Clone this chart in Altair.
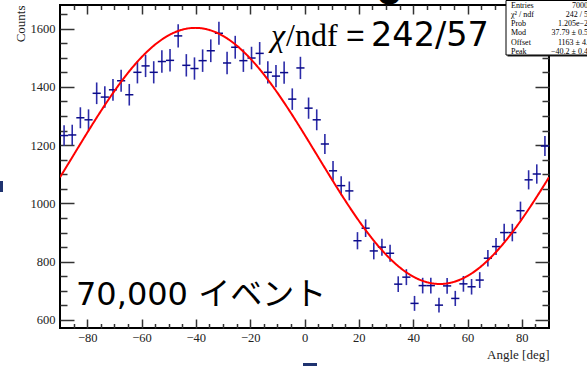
import altair as alt
import pandas as pd

# ---- data ----
ANGLES = [-88.5, -85.5, -82.5, -79.5, -76.5, -73.5, -70.5, -67.5, -64.5, -61.5,
          -58.5, -55.5, -52.5, -49.5, -46.5, -43.5, -40.5, -37.5, -34.5, -31.5,
          -28.5, -25.5, -22.5, -19.5, -16.5, -13.5, -10.5, -7.5, -4.5, -1.5,
          1.5, 4.5, 7.5, 10.5, 13.5, 16.5, 19.5, 22.5, 25.5, 28.5,
          31.5, 34.5, 37.5, 40.5, 43.5, 46.5, 49.5, 52.5, 55.5, 58.5,
          61.5, 64.5, 67.5, 70.5, 73.5, 76.5, 79.5, 82.5, 85.5, 88.5]
COUNTS = [1233, 1235, 1294, 1287, 1378, 1365, 1390, 1421, 1373, 1450,
          1472, 1450, 1487, 1491, 1575, 1474, 1463, 1490, 1524, 1584,
          1482, 1536, 1490, 1499, 1515, 1450, 1437, 1449, 1358, 1465,
          1327, 1287, 1204, 1112, 1061, 1043, 872, 915, 837, 850,
          829, 723, 747, 657, 718, 718, 651, 717, 674, 724,
          714, 737, 812, 852, 900, 900, 975, 1081, 1101, 1197]
BIN_HALF = 1.5

# fit parameters (from the stat box)
MOD = 37.79
OFFSET = 1163
PEAK = -40.2

X_DOMAIN = [-90, 90]
Y_DOMAIN = [572.5, 1681]
X_MAJOR = [-80, -60, -40, -20, 0, 20, 40, 60, 80]
X_MINOR = [-85, -75, -70, -65, -55, -50, -45, -35, -30, -25, -15, -10, -5,
           5, 10, 15, 25, 30, 35, 45, 50, 55, 65, 70, 75, 85]
Y_MAJOR = [600, 800, 1000, 1200, 1400, 1600]
Y_MINOR = [650, 700, 750, 850, 900, 950, 1050, 1100, 1150, 1250, 1300, 1350,
           1450, 1500, 1550, 1650]

STAT_LABELS = ["Entries", "χ² / ndf", "Prob", "Mod", "Offset", "Peak"]
STAT_VALUES = ["70000", "242 / 57", "1.205e−24", "37.79 ± 0.52", "1163 ± 4.3", "−40.2 ± 0.42"]

CHI_SYMBOL = "χ"
CHI_REST = "/ndf"
CHI_EQ = "="
CHI_VALUE = "242/57"
EVENTS_TEXT = "70,000 イベント"

X_TITLE = "Angle [deg]"
Y_TITLE = "Counts"

W, H = 489, 323
SERIF = "Liberation Serif"
SANS = "DejaVu Sans, Noto Sans CJK JP"

df = pd.DataFrame({"angle": ANGLES, "count": COUNTS})

xs = alt.Scale(domain=X_DOMAIN, nice=False, zero=False)
ys = alt.Scale(domain=Y_DOMAIN, nice=False, zero=False)

base = alt.Chart(df).transform_calculate(
    lo="datum.count - sqrt(datum.count)",
    hi="datum.count + sqrt(datum.count)",
    xl=f"datum.angle - {BIN_HALF}",
    xr=f"datum.angle + {BIN_HALF}",
)

bottom_labels = alt.Axis(
    orient="bottom", values=X_MAJOR, format="d", ticks=False, tickSize=0, domain=False,
    grid=False, labelPadding=3.5, labelFont=SERIF, labelFontSize=12.5, labelColor="#222",
    labelOverlap=False, labelFlush=False,
    title=X_TITLE, titleFont=SERIF, titleFontSize=13, titleFontWeight="normal",
    titleColor="#222", titleX=W, titleY=30, titleAlign="right", titleBaseline="alphabetic",
)
left_labels = alt.Axis(
    orient="left", values=Y_MAJOR, format="d", ticks=False, tickSize=0, domain=False,
    grid=False, labelPadding=5, labelFont=SERIF, labelFontSize=12.5, labelColor="#222",
    labelOverlap=False, labelFlush=False,
    title=Y_TITLE, titleFont=SERIF, titleFontSize=13, titleFontWeight="normal",
    titleColor="#222", titleAngle=270, titleX=-36, titleY=0, titleAlign="right",
    titleBaseline="alphabetic",
)

vbars = base.mark_rule(color="#2b2ba8", strokeWidth=1.6).encode(
    x=alt.X("angle:Q", scale=xs, axis=bottom_labels),
    y=alt.Y("lo:Q", scale=ys, axis=left_labels),
    y2="hi:Q",
)
hbars = base.mark_rule(color="#0b0b8a", strokeWidth=1.5).encode(
    x=alt.X("xl:Q", scale=xs, axis=None),
    x2="xr:Q",
    y=alt.Y("count:Q", scale=ys, axis=None),
)

fit = alt.Chart(alt.sequence(-90, 90.25, 0.25, as_="x")).transform_calculate(
    f=f"{OFFSET} * (1 + {MOD} / 100 * cos(2 * (datum.x - ({PEAK})) * PI / 180))"
).mark_line(color="#ff0000", strokeWidth=2, clip=True).encode(
    x=alt.X("x:Q", scale=xs, axis=None),
    y=alt.Y("f:Q", scale=ys, axis=None),
)


def tick_layer(orient, values, size):
    ax = alt.Axis(orient=orient, values=values, tickSize=size, offset=-size,
                  labels=False, domain=False, grid=False, title=None,
                  tickColor="#333", tickWidth=1.5)
    ch = alt.Chart(df).mark_point(opacity=0)
    if orient in ("bottom", "top"):
        return ch.encode(x=alt.X("angle:Q", scale=xs, axis=ax),
                         y=alt.Y("count:Q", scale=ys, axis=None))
    return ch.encode(x=alt.X("angle:Q", scale=xs, axis=None),
                     y=alt.Y("count:Q", scale=ys, axis=ax))


ticks = [
    tick_layer("bottom", X_MAJOR, 9), tick_layer("bottom", X_MINOR, 4.5),
    tick_layer("top", X_MAJOR, 9), tick_layer("top", X_MINOR, 4.5),
    tick_layer("left", Y_MAJOR, 14), tick_layer("left", Y_MINOR, 7),
    tick_layer("right", Y_MAJOR, 14), tick_layer("right", Y_MINOR, 7),
]

one = alt.Data(values=[{}])

def txt(s, x, y, **kw):
    return alt.Chart(one).mark_text(**kw).encode(
        x=alt.value(x), y=alt.value(y), text=alt.value(s))

chi1 = txt(CHI_SYMBOL, 211, 41, align="left", baseline="alphabetic", font=SERIF,
           fontSize=32, fontStyle="italic", color="black")
chi2 = txt(CHI_REST, 226, 41, align="left", baseline="alphabetic", font=SERIF,
           fontSize=32, color="black")
chi3 = txt(CHI_EQ, 286, 41, align="left", baseline="alphabetic", font="Liberation Sans",
           fontSize=32, color="black")
chi4 = txt(CHI_VALUE, 311, 41, align="left", baseline="alphabetic", font=SANS,
           fontSize=33.5, color="black")
events = txt(EVENTS_TEXT, 16, 300, align="left", baseline="alphabetic", font=SANS,
             fontSize=32, color="black")
top_glyph = txt("o", 329, -1.5, align="center", baseline="alphabetic", font=SANS,
                fontSize=36, fontWeight="bold", color="black")

def rect(x, x2, y, y2, **kw):
    return alt.Chart(one).mark_rect(**kw).encode(
        x=alt.value(x), x2=alt.value(x2), y=alt.value(y), y2=alt.value(y2))

box_shadow = rect(447.5, 545, -3, 51.5, color="#222")
box = rect(446, 544, -4.5, 50, fill="white", stroke="black", strokeWidth=1)
stat_lab = txt("\n".join(STAT_LABELS), 451, 3, align="left", baseline="alphabetic",
               font=SERIF, fontSize=8, lineHeight=9.15, lineBreak="\n", color="black")
stat_val = txt("\n".join(STAT_VALUES), 532, 3, align="right", baseline="alphabetic",
               font=SERIF, fontSize=8, lineHeight=9.15, lineBreak="\n", color="black")

art1 = rect(-60, -57, 176, 187, color="#1f3370")
art2 = rect(243, 257, 358, 364, color="#1f3370")

chart = alt.layer(
    *ticks, vbars, hbars, fit, chi1, chi2, chi3, chi4, events, top_glyph,
    box_shadow, box, stat_lab, stat_val, art1, art2,
).resolve_axis(x="independent", y="independent").properties(
    width=W, height=H,
    autosize=alt.AutoSizeParams(type="none"),
    padding={"left": 60, "top": 5, "right": 38, "bottom": 38},
    background="white",
).configure_view(stroke="black", strokeWidth=2)

chart.save("out.html", embed_options={"renderer": "svg", "actions": False})
